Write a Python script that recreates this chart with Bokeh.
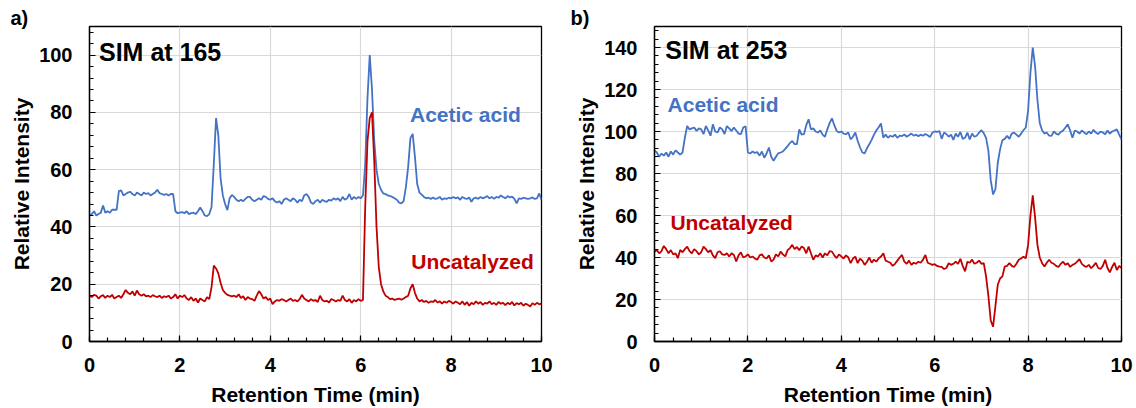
from bokeh.plotting import figure
from bokeh.layouts import row
from bokeh.models import Range1d, FixedTicker, Label
from bokeh.embed import file_html
from bokeh.resources import INLINE

# Retention time sampling (min), 0.05 min steps from 0 to 10
t_min = [round(i * 0.05, 2) for i in range(201)]

# SIM at m/z 165
sim165_acetic = [
    44, 44.5, 45.5, 44, 44.5, 45, 47.5, 45, 45.5, 45, 46, 46, 46, 52.5, 52.8, 51, 51.5, 52, 52.3, 51.5,
    51, 52, 51.5, 51, 52, 51.5, 51.8, 51, 51.5, 52, 53, 51.8, 51.5, 51.2, 51.5, 51, 51.5, 51.5, 45.5, 44.8,
    45, 45.2, 44.8, 45.5, 44.5, 44.8, 45, 44.5, 45.5, 46.8, 45.5, 44, 43.8, 44.5, 47, 62, 78, 72, 57, 51,
    48, 45.9, 50, 51.2, 50.5, 49.5, 49, 49.5, 49, 49.8, 50.5, 50.5, 49.5, 49, 49.5, 50, 49.5, 50.8, 50.5, 49.8,
    49.5, 50, 49, 48.5, 49, 48, 49.5, 50, 49.5, 49, 50, 49.5, 48.5, 49.5, 49, 51, 51.5, 50.5, 48.5, 48,
    49, 49.5, 48.5, 49.5, 49, 48.8, 49.5, 49.2, 50, 49.5, 50, 49, 50.5, 49.5, 50, 51.5, 49.5, 50.5, 49.8, 50.5,
    50, 51, 62, 85, 100, 88, 70, 60, 55, 53, 51.7, 51.5, 51, 50.8, 50.5, 50, 49.5, 48.5, 48.2, 49,
    54, 61, 71, 72.5, 64.5, 55, 52, 51.3, 50.5, 50, 50.2, 49.8, 50.3, 49.8, 50, 50.5, 49.5, 50, 49.8, 50.2,
    50, 50.5, 50, 50.3, 49.5, 50.5, 50, 49.8, 50.3, 48.8, 50, 50.2, 49.8, 50.5, 50, 50.3, 50.8, 50, 50.5, 49.8,
    50.5, 50.2, 51, 50.5, 50, 50.8, 50.3, 50.6, 49.8, 48.2, 50, 49.8, 50.2, 50, 49.8, 50, 50.3, 49.8, 50, 51.7,
    49.5,
]
sim165_uncat = [
    16, 15.5, 16.3, 16, 15, 15.8, 16.2, 15.2, 16, 15.5, 16.3, 15, 15.5, 16, 15.2, 16.5, 18, 17, 16.5, 17.5,
    16, 17.8, 16.5, 16, 16.5, 15.8, 16, 15.5, 16.2, 15.8, 15.5, 16, 15.2, 15.8, 15.5, 16, 15, 15.5, 16.5, 15,
    16, 15.5, 16.2, 15, 14.5, 15.5, 14.2, 15, 13.6, 15, 14.5, 14, 15.5, 14.8, 19, 26.5, 25.5, 23.8, 20.5, 18,
    17, 16.3, 16, 15.8, 16, 15.5, 16.5, 15.2, 15.8, 14.5, 15.5, 15, 14.8, 14.2, 16, 17.6, 16.5, 15, 15.5, 14.5,
    15, 13, 14, 14.5, 14.2, 14.8, 14.5, 14, 14.5, 15, 14.2, 14.5, 14, 14.8, 16.3, 15, 14.5, 14, 14.8, 14.2,
    14.5, 13.8, 16, 14.5, 14, 14.2, 13.6, 14.8, 14.5, 14, 14.5, 14.2, 16, 14.5, 14, 14.8, 13.5, 14.5, 14, 14.8,
    14.2, 14.5, 47, 70, 78, 80, 63, 40, 26, 20, 17.5, 16, 15.5, 14.8, 15, 14.5, 14.8, 15, 14.6, 15,
    15.5, 16, 18.5, 20, 17, 15, 14, 14.5, 13.8, 14.2, 13.5, 14, 13.8, 14.5, 13.6, 14, 13.2, 14, 13.5, 14.2,
    13.8, 13.2, 14, 13.5, 13, 14, 12.8, 13.8, 12.5, 13.5, 13, 14, 13.2, 13.8, 12.8, 13.5, 13.2, 14, 13, 13.5,
    12.8, 13.8, 13.2, 13.5, 12.7, 13.5, 13, 13.8, 12.6, 13.4, 13, 13.5, 12.5, 13.2, 12.8, 12.2, 13.4, 12.8, 13.5, 13,
    13.2,
]

# SIM at m/z 253
sim253_acetic = [
    91, 90, 88, 89.5, 88.5, 90, 88, 90.5, 89, 91, 90, 89, 90, 97, 102.6, 101, 101.5, 101.9, 100.3, 101.5,
    101, 98.7, 102.6, 100.5, 98, 103.4, 100, 99.5, 102, 101, 98.8, 102.6, 101.5, 100.2, 101.9, 100.5, 99, 98.7, 101.9, 102.5,
    90, 89.5, 90.5, 89.8, 90.2, 88.5, 90.5, 87.5, 89.5, 92.4, 88, 86, 88, 89.6, 90, 90.5, 91.7, 93, 94.5, 95.5,
    94, 94, 101, 98.5, 98.7, 103, 105.8, 101, 101.5, 100, 99.5, 100.5, 98.5, 97.5, 101, 104, 106.3, 103, 100.3, 99.5,
    100, 99, 98.7, 99.5, 96.3, 97.5, 99.5, 95.6, 92.5, 90, 89.6, 92, 94, 96, 98.5, 100.5, 102, 103.8, 97.1, 98.5,
    97, 98, 97.5, 98.5, 97, 98, 97.8, 98.6, 97.5, 98.2, 99, 98, 98.5, 97.8, 98.5, 98, 98.8, 98.2, 97.3, 99.5,
    100, 99.8, 100.2, 96.5, 99.5, 98.8, 97.5, 98.5, 96, 99, 97.5, 99.8, 96.5, 97, 99.5, 96.2, 99, 97.5, 98, 99.5,
    100.6, 99.2, 97, 90.8, 76.7, 70, 72.5, 85, 91.5, 95.9, 96.5, 97.9, 96.5, 99, 99.5, 98.5, 97.5, 99, 100.6, 101.9,
    110, 128, 140, 131, 115, 104, 100.6, 99, 99.5, 98, 97.9, 100, 99, 98.5, 99.8, 100.5, 101.9, 103.4, 100.5, 97,
    100.5, 100, 99, 100.5, 99.5, 98.7, 100, 99, 100.8, 99.5, 98.8, 100, 99.5, 98.7, 100.5, 99, 100, 100.5, 101, 98.5,
    96.3,
]
sim253_uncat = [
    42.8, 43.5, 42, 43, 45.5, 44, 42, 43.5, 41.5, 42, 39.7, 43.6, 42.5, 44, 45.2, 43, 42, 44, 43, 41.5,
    42.5, 45.2, 44, 42.5, 43.5, 41, 39.7, 42.5, 43, 41.5, 41.2, 42, 40.5, 42, 41.2, 38.1, 41, 42.5, 40, 40.5,
    41.5, 40, 40.5, 39.5, 38.9, 41, 41.5, 40, 39.5, 41, 38.1, 39, 41.5, 40.5, 42.8, 41.5, 40.5, 43.5, 44.5, 46,
    44, 45, 43.5, 45.2, 44.5, 42, 45.2, 42, 38.9, 41, 40.5, 42, 40, 42, 41, 43, 42.8, 41, 39.7, 41.5,
    40.5, 39.5, 41, 40, 37.3, 39.5, 40.4, 37.3, 39.5, 38.5, 36.5, 38, 40, 37.5, 39, 38, 39.6, 40.5, 42, 38.5,
    38, 37.5, 36, 37, 38.5, 40, 41.2, 38, 37, 38.5, 36.5, 37.5, 37, 38, 37.5, 39, 41.2, 37.5, 37, 36.5,
    36.8, 36, 35.7, 35.5, 34.5, 35, 37.3, 36.5, 37, 38, 37, 39.4, 36, 33.4, 38, 37.5, 39, 37, 37.5, 38.5,
    37, 37.3, 31, 21.6, 10, 7, 16.8, 27, 30, 31, 35.7, 36, 37.3, 36, 35.5, 37, 38.9, 39.5, 40.4, 39.6,
    46, 60, 69.6, 59, 46, 40, 37.3, 35.7, 37.5, 38.9, 37.5, 37, 36, 35.5, 37, 38, 36.5, 37.3, 35.5, 36.5,
    37, 38, 39.2, 37, 36, 35.5, 36.5, 34.9, 36, 37.5, 35, 34.5, 36, 38.9, 35, 32.9, 35.5, 37.5, 34, 36,
    34.9,
]

x_ticks = [0, 2, 4, 6, 8, 10]
x_minor = [round(i * 0.4, 1) for i in range(26)]
a_y_ticks = [0, 20, 40, 60, 80, 100]
b_y_ticks = [0, 20, 40, 60, 80, 100, 120, 140]

BLUE = "#4472C4"
RED = "#C00000"
FONT = "Liberation Sans"


def make_panel(width, y_max, y_ticks, borders, tag):
    left, right, top, bottom = borders
    p = figure(width=width, height=408, output_backend="svg", toolbar_location=None,
               x_range=Range1d(0, 10), y_range=Range1d(0, y_max),
               min_border_left=left, min_border_right=right,
               min_border_top=top, min_border_bottom=bottom)
    p.background_fill_color = "white"
    p.border_fill_color = "white"
    p.outline_line_color = "black"
    p.outline_line_width = 1.3
    p.outline_line_alpha = 1

    # panel tag ("a)", "b)") in the top-left corner, outside the frame
    p.title.text = tag
    p.title.align = "left"
    p.title.offset = -(left - 10)
    p.title.standoff = -4
    p.title.vertical_align = "bottom"
    p.title.text_font = FONT
    p.title.text_font_style = "bold"
    p.title.text_font_size = "20px"
    p.title.text_color = "black"

    p.xaxis.ticker = FixedTicker(ticks=x_ticks, minor_ticks=x_minor)
    y_minor = [i * 4 for i in range(int(y_max // 4) + 1)]
    p.yaxis.ticker = FixedTicker(ticks=y_ticks, minor_ticks=y_minor)

    for ax in (p.xaxis[0], p.yaxis[0]):
        ax.axis_line_color = "black"
        ax.axis_line_width = 1.3
        ax.major_tick_line_color = "black"
        ax.minor_tick_line_color = "black"
        ax.major_tick_line_width = 1.2
        ax.minor_tick_line_width = 1.2
        ax.major_tick_in = 6
        ax.major_tick_out = 0
        ax.minor_tick_in = 4
        ax.minor_tick_out = 0
        ax.major_label_text_font = FONT
        ax.major_label_text_font_style = "bold"
        ax.major_label_text_font_size = "20px"
        ax.major_label_text_color = "black"
        ax.axis_label_text_font = FONT
        ax.axis_label_text_font_style = "bold"
        ax.axis_label_text_font_size = "21px"
        ax.axis_label_text_color = "black"

    p.xaxis.axis_label = "Retention Time (min)"
    p.yaxis.axis_label = "Relative Intensity"
    p.xaxis.major_label_standoff = 16
    p.xaxis.axis_label_standoff = 8
    p.yaxis.major_label_standoff = 17
    p.yaxis.axis_label_standoff = 3

    p.xgrid.ticker = FixedTicker(ticks=x_ticks)
    p.ygrid.ticker = FixedTicker(ticks=y_ticks)
    p.grid.grid_line_color = "#d9d9d9"
    p.grid.grid_line_width = 1.2
    return p


def add_text(p, x, y, text, color, size):
    p.add_layout(Label(x=x, y=y, text=text, text_color=color, text_font=FONT,
                       text_font_style="bold", text_font_size=size,
                       text_align="left", text_baseline="middle"))


# Panel a: SIM at 165
pa = make_panel(560, 110, a_y_ticks, (89, 19, 26, 66), "a)")
pa.line(t_min, sim165_acetic, line_color=BLUE, line_width=1.8)
pa.line(t_min, sim165_uncat, line_color=RED, line_width=1.8)
add_text(pa, 0.21, 101, "SIM at 165", "black", "25px")
add_text(pa, 7.09, 79.3, "Acetic acid", BLUE, "21px")
add_text(pa, 7.12, 27.9, "Uncatalyzed", RED, "21px")

# Panel b: SIM at 253
pb = make_panel(576, 150, b_y_ticks, (94, 15, 25, 66), "b)")
pb.line(t_min, sim253_acetic, line_color=BLUE, line_width=1.8)
pb.line(t_min, sim253_uncat, line_color=RED, line_width=1.8)
add_text(pb, 0.23, 138.9, "SIM at 253", "black", "25px")
add_text(pb, 0.28, 113, "Acetic acid", BLUE, "21px")
add_text(pb, 0.34, 56.5, "Uncatalyzed", RED, "21px")

layout = row(pa, pb)
open("out.html", "w").write(file_html(layout, INLINE))
